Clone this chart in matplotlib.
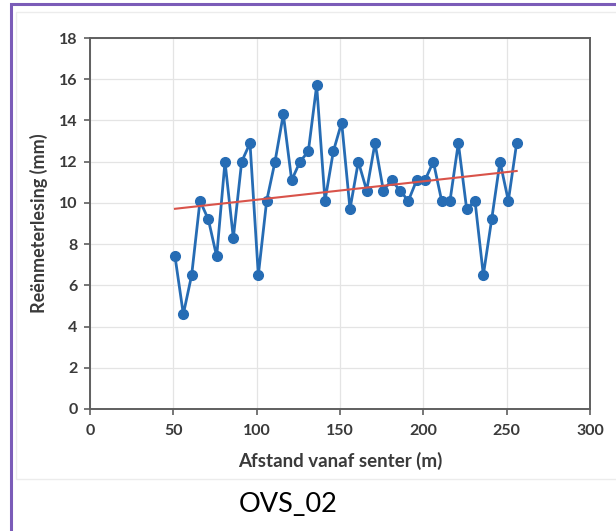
import numpy as np
import matplotlib
matplotlib.use("Agg")
import matplotlib.pyplot as plt
from matplotlib.patches import Rectangle

# afstand vanaf senter (m) en reënmeterlesing (mm)
afstand = [51, 56, 61, 66, 71, 76, 81, 86, 91, 96,
           101, 106, 111, 116, 121, 126, 131, 136, 141, 146,
           151, 156, 161, 166, 171, 176, 181, 186, 191, 196,
           201, 206, 211, 216, 221, 226, 231, 236, 241, 246,
           251, 256]
lesing = [7.4, 4.6, 6.5, 10.1, 9.2, 7.4, 12.0, 8.3, 12.0, 12.9,
          6.5, 10.1, 12.0, 14.3, 11.1, 12.0, 12.5, 15.7, 10.1, 12.5,
          13.9, 9.7, 12.0, 10.6, 12.9, 10.6, 11.1, 10.6, 10.1, 11.1,
          11.1, 12.0, 10.1, 10.1, 12.9, 9.7, 10.1, 6.5, 9.2, 12.0,
          10.1, 12.9]
x_ticks = [0, 50, 100, 150, 200, 250, 300]
y_ticks = [0, 2, 4, 6, 8, 10, 12, 14, 16, 18]

plt.rcParams['font.family'] = ['Lato', 'DejaVu Sans']

fig = plt.figure(figsize=(6.16, 5.31), dpi=100)
W, H = 616, 531

# purple frame and the light chart-area box
fig.patches.append(Rectangle((11 / W, -0.1), 1.2, 1.1 - 4 / H, transform=fig.transFigure,
                             fill=False, edgecolor='#7b5cb8', linewidth=2.2))
fig.patches.append(Rectangle((16 / W, 1 - 479 / H), 1.0, (479 - 12) / H, transform=fig.transFigure,
                             fill=False, edgecolor='#ececec', linewidth=1.0))

ax = fig.add_axes([90 / W, 1 - 409 / H, (590 - 90) / W, (409 - 38) / H])

x = np.array(afstand)
y = np.array(lesing)
ax.plot(x, y, color='#266cb4', linewidth=2.0, marker='o', markersize=7, zorder=3)

# lineêre tendenslyn
k, c = np.polyfit(x, y, 1)
ax.plot([x[0], x[-1]], [k * x[0] + c, k * x[-1] + c], color='#d9534a', linewidth=1.5, zorder=4)

ax.set_xlim(0, 300)
ax.set_ylim(0, 18)
ax.set_xticks(x_ticks)
ax.set_yticks(y_ticks)
ax.grid(True, color='#e4e4e4', linewidth=0.9)
ax.set_axisbelow(True)
for s in ax.spines.values():
    s.set_color('#5f5f5f')
    s.set_linewidth(1.4)
ax.tick_params(axis='both', direction='out', length=4, width=1.2, color='#5f5f5f',
               labelsize=11.5, labelcolor='#3a3a3a')
for lab in ax.get_xticklabels() + ax.get_yticklabels():
    lab.set_fontweight('bold')
ax.tick_params(axis='x', pad=7)
ax.tick_params(axis='y', pad=5)

ax.set_xlabel('Afstand vanaf senter (m)', fontsize=13.5, fontweight='bold', color='#3a3a3a', labelpad=10)
ax.set_ylabel('Reënmeterlesing (mm)', fontsize=13, fontweight='bold', color='#3a3a3a', labelpad=8)

fig.text(288 / W, 1 - 505 / H, 'OVS_02', fontsize=19.5, color='black', ha='center', va='center')

fig.savefig('out.png', dpi=100)
